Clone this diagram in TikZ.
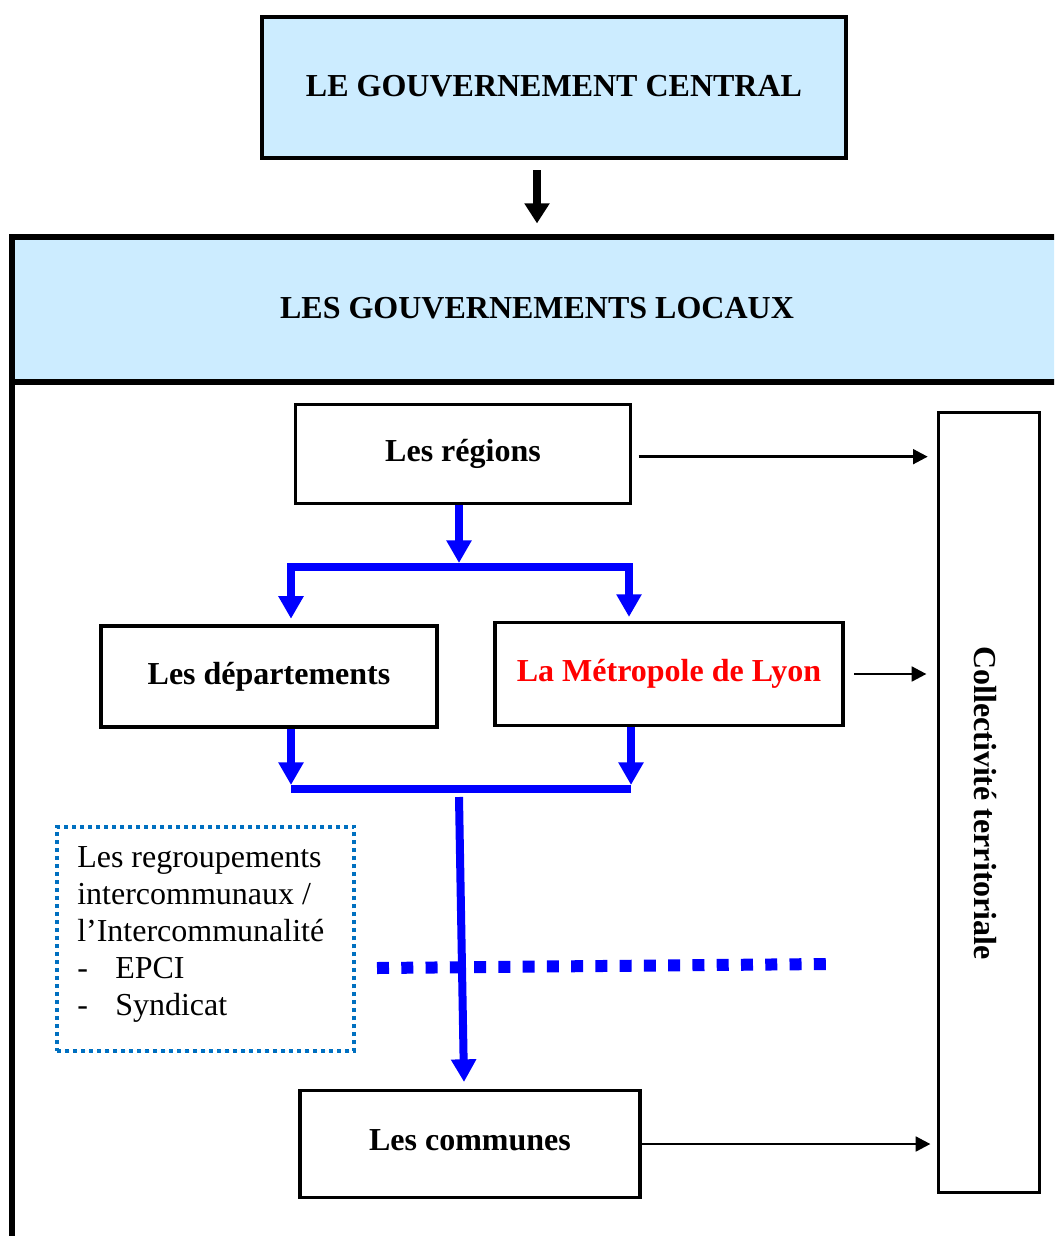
\documentclass[tikz,border=0pt]{standalone}
\usepackage{fontspec}
\setmainfont{Liberation Serif}
\usetikzlibrary{arrows.meta,calc}
\definecolor{lightbl}{HTML}{CCECFF}
\definecolor{dotblue}{HTML}{0070C0}
\definecolor{pureblue}{HTML}{0000FF}
\definecolor{purered}{HTML}{FF0000}
\tikzset{
  txt/.style={font=\fontsize{24pt}{27.75pt}\selectfont},
  btxt/.style={font=\fontsize{24pt}{27.75pt}\selectfont\bfseries},
  boxnode/.style={draw=black, line width=2.6pt, inner sep=0pt, btxt},
  bluearrow/.style={draw=pureblue, line width=6pt, -{Triangle[width=18pt,length=17pt]}},
  blueline/.style={draw=pureblue, line width=6pt, line cap=butt},
  thinarrow/.style={draw=black, line width=2pt, -{Triangle[width=11pt,length=11pt]}},
  bigarrow/.style={draw=black, line width=5.5pt, -{Triangle[width=18pt,length=15pt]}},
}
\begin{document}
\begin{tikzpicture}[x=0.75pt,y=-0.75pt]
\useasboundingbox (0,0) rectangle (1054,1236);
\clip (0,0) rectangle (1054,1236);

% top box
\node[boxnode, line width=3.4pt, fill=lightbl, minimum width=438pt, minimum height=105.75pt] (top) at (554,87.5) {\raisebox{2pt}{LE GOUVERNEMENT CENTRAL}};

% header band of the local governments
\node[fill=lightbl, inner sep=0pt, minimum width=787.5pt, minimum height=108.75pt, btxt] (hdr) at (537,309.5) {\raisebox{2pt}{LES GOUVERNEMENTS LOCAUX}};
\draw[line width=4.5pt] (12,1260) -- (12,237) -- (1080,237);
\draw[line width=4.5pt] (12,382) -- (1080,382);

\draw[bigarrow, shorten <=7.5pt, shorten >=10pt] (top.south -| hdr.north) -- (hdr.north);

% main boxes
\node[boxnode, minimum width=251pt, minimum height=74pt] (reg) at (463,454) {Les régions};
\node[boxnode, minimum width=252pt, minimum height=76pt] (dep) at (269,676.5) {Les départements};
\node[boxnode, minimum width=261pt, minimum height=77pt, text=purered] (met) at (669,674) {La Métropole de Lyon};
\node[boxnode, minimum width=255pt, minimum height=80pt] (com) at (470,1144) {\raisebox{6pt}{Les communes}};
\node[draw=black, line width=1.9pt, inner sep=0pt, minimum width=76pt, minimum height=585pt] (coll) at (989,802.5) {};
\node[btxt, rotate=-90] (colltxt) at (985,803) {Collectivité territoriale};

% blue connectors
\coordinate (s1) at (459,563);
\coordinate (bl) at (291,567);
\coordinate (br) at (629,567);
\draw[bluearrow] (reg.south -| s1) -- (s1);
\draw[draw=pureblue, line width=6pt, line join=miter, {Triangle[width=18pt,length=17pt]}-{Triangle[width=18pt,length=17pt]}, shorten <=4pt, shorten >=3pt]
  (dep.north -| bl) -- (bl) -- (br) -- (met.north -| br);

\coordinate (bl2) at (291,789);
\coordinate (br2) at (631,789);
\coordinate (tl2) at (291,785);
\coordinate (tr2) at (631,785);
\draw[bluearrow] (dep.south -| bl2) -- (tl2);
\draw[bluearrow] (met.south -| br2) -- (tr2);
\draw[blueline] (bl2) -- (br2);

\coordinate (mid) at (459,797);
\coordinate (comin) at (464,1082);
\draw[bluearrow] (mid) -- (comin);

% dotted dividing line
\coordinate (d1) at (377,968);
\coordinate (d2) at (826,964);
\draw[draw=pureblue, line width=9pt, dash pattern=on 9pt off 9.2pt] (d1) -- (d2);

% intercommunality box
\node[draw=dotblue, line width=3pt, dash pattern=on 3pt off 3pt, inner sep=0pt, minimum width=223pt, minimum height=168pt] (epcibox) at (205.5,939) {};
\node[txt, anchor=north west, align=left, inner sep=0pt] (epci) at (77,846)
  {Les regroupements\\intercommunaux /\\l’Intercommunalité\\\makebox[28.5pt][l]{-}EPCI\\\makebox[28.5pt][l]{-}Syndicat};

% thin arrows to the collectivité box
\draw[thinarrow, shorten <=5pt, shorten >=7pt] ([yshift=-2pt]reg.east) -- ([yshift=-2pt]reg.east -| coll.west);
\draw[thinarrow, shorten <=7pt, shorten >=8pt] (met.east) -- (met.east -| coll.west);
\draw[thinarrow, shorten >=5pt] (com.east) -- (com.east -| coll.west);

\end{tikzpicture}
\end{document}
